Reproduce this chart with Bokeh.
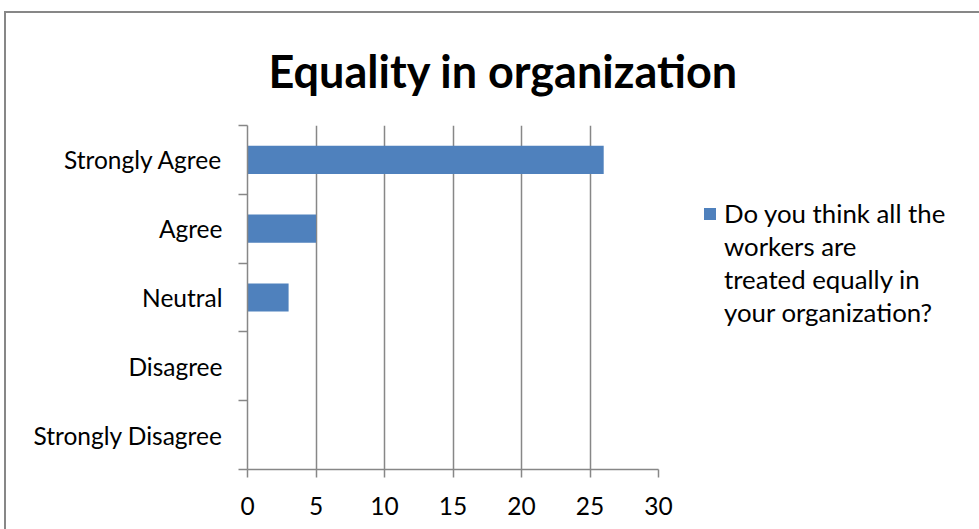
from bokeh.plotting import figure
from bokeh.models import (FixedTicker, Range1d, Legend, LegendItem, ColumnDataSource)
from bokeh.embed import file_html
from bokeh.resources import INLINE

# ---- data ----
categories = ["Strongly Agree", "Agree", "Neutral", "Disagree", "Strongly Disagree"]
counts = [26, 5, 3, 0, 0]
x_ticks = [0, 5, 10, 15, 20, 25, 30]
series_lines = ["Do you think all the", "workers are", "treated equally in", "your organization?"]
title_text = "Equality in organization"

n = len(categories)
# position categories top-to-bottom
ypos = [n - 1 - i + 0.5 for i in range(n)]
src = ColumnDataSource(dict(y=ypos, right=counts, cat=categories))

GRAY = "#878787"
FONT = "Lato"

p = figure(frame_width=411, frame_height=344, output_backend="svg", toolbar_location=None,
           x_range=Range1d(0, 30), y_range=Range1d(0, n),
           min_border_left=241, min_border_right=321, min_border_top=112,
           min_border_bottom=60,
           styles={"border-left": "2px solid #878787", "border-top": "2px solid #878787",
                   "margin-left": "4px", "margin-top": "11px"})
p.outline_line_color = None
p.background_fill_color = "white"
p.border_fill_color = "white"

r = p.hbar(y="y", right="right", left=0, height=0.41, source=src,
           fill_color="#4F81BD", line_color=None)
# invisible renderer used only for the continuation lines of the legend label
blank = p.hbar(y=[], right=[], left=0, height=0.41, fill_alpha=0, line_alpha=0)

# title
p.title.text = title_text
p.title.text_font = FONT
p.title.text_font_style = "bold"
p.title.text_font_size = "45px"
p.title.align = "left"
p.title.offset = 21
p.title.standoff = 55
p.title.text_color = "black"

# x axis
xa = p.xaxis[0]
xa.ticker = FixedTicker(ticks=x_ticks)
xa.axis_line_color = GRAY
xa.axis_line_width = 1.5
xa.major_tick_line_color = GRAY
xa.major_tick_line_width = 1.5
xa.major_tick_out = 8
xa.major_tick_in = 0
xa.minor_tick_line_color = None
xa.major_label_text_font = FONT
xa.major_label_text_font_size = "24.5px"
xa.major_label_text_color = "black"
xa.major_label_standoff = 19

# y axis: labels at centers, ticks at boundaries
ya = p.yaxis[0]
ya.ticker = FixedTicker(ticks=ypos, minor_ticks=list(range(n + 1)))
ya.major_label_overrides = {y: c for y, c in zip(ypos, categories)}
ya.axis_line_color = GRAY
ya.axis_line_width = 1.5
ya.major_tick_line_color = None
ya.minor_tick_line_color = GRAY
ya.minor_tick_line_width = 1.5
ya.minor_tick_out = 9
ya.minor_tick_in = 0
ya.major_label_text_font = FONT
ya.major_label_text_font_size = "24.5px"
ya.major_label_text_color = "black"
ya.major_label_standoff = 16

p.xgrid.grid_line_color = GRAY
p.xgrid.grid_line_width = 1.5
p.ygrid.grid_line_color = None

items = [LegendItem(label=series_lines[0], renderers=[r])]
items += [LegendItem(label=t, renderers=[blank]) for t in series_lines[1:]]
legend = Legend(items=items,
                location=(44, 141), padding=0, margin=0, border_line_color=None,
                background_fill_alpha=0, glyph_width=15, glyph_height=15,
                label_standoff=7, label_height=32, spacing=1,
                label_text_font=FONT, label_text_font_size="25.8px",
                label_text_color="black")
p.add_layout(legend, "right")

open("out.html", "w").write(file_html(p, INLINE))
